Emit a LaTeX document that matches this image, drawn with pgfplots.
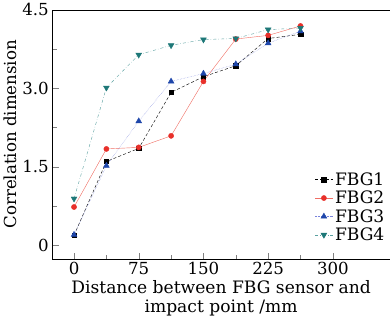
\documentclass[border=0pt]{standalone}
\usepackage{fontspec}
\setmainfont{DejaVu Serif}
\usepackage{pgfplots}
\pgfplotsset{compat=1.18}
\definecolor{c1}{RGB}{0,0,0}
\definecolor{c2line}{RGB}{240,110,100}
\definecolor{c2}{RGB}{232,48,42}
\definecolor{c3line}{RGB}{120,130,220}
\definecolor{c3}{RGB}{30,70,170}
\definecolor{c4line}{RGB}{90,160,160}
\definecolor{c4}{RGB}{30,120,120}
\begin{document}
\begin{tikzpicture}
\begin{axis}[
  scale only axis,
  width=325pt, height=240pt,
  xmin=-25, xmax=366, ymin=-0.26, ymax=4.5,
  xtick={0,75,150,225,300}, ytick={0,1.5,3,4.5},
  yticklabels={0,1.5,3.0,4.5},
  /pgf/number format/assume math mode=true,
  minor x tick num=1, minor y tick num=1,
  tick align=inside,
  xtick pos=bottom, ytick pos=left,
  major tick length=6pt, minor tick length=4pt,
  tick label style={font=\fontsize{16}{19}\selectfont},
  label style={font=\fontsize{16.5}{18.5}\selectfont},
  xlabel={Distance between FBG sensor and\\impact point /mm},
  xlabel style={align=center, yshift=2pt},
  ylabel={Correlation dimension},
  ylabel style={yshift=-1pt, font=\fontsize{16}{19}\selectfont},
  legend style={draw=none, fill=none, at={(1,0.05)}, anchor=south east,
    font=\fontsize{16.5}{19}\selectfont},
  legend cell align=left,
  every axis plot/.append style={mark size=2.5pt},
]
\addplot[c1, densely dashed, thin, mark=square*, mark options={solid, fill=c1, scale=0.85}] coordinates {
(0,0.19) (37.5,1.60) (75,1.85) (112.5,2.92) (150,3.22) (187.5,3.43) (225,3.95) (262.5,4.03)};
\addlegendentry{FBG1}
\addplot[c2line, thin, mark=*, mark options={solid, fill=c2, draw=c2}] coordinates {
(0,0.73) (37.5,1.84) (75,1.87) (112.5,2.09) (150,3.13) (187.5,3.94) (225,4.01) (262.5,4.19)};
\addlegendentry{FBG2}
\addplot[c3line, densely dotted, thin, mark=triangle*, mark options={solid, fill=c3, draw=c3, scale=1.3}] coordinates {
(0,0.20) (37.5,1.52) (75,2.37) (112.5,3.13) (150,3.28) (187.5,3.46) (225,3.86) (262.5,4.09)};
\addlegendentry{FBG3}
\addplot[c4line, dashdotted, thin, mark=triangle*, mark options={solid, fill=c4, draw=c4, rotate=180, scale=1.3}] coordinates {
(0,0.89) (37.5,3.01) (75,3.64) (112.5,3.82) (150,3.93) (187.5,3.95) (225,4.12) (262.5,4.15)};
\addlegendentry{FBG4}
\end{axis}
\end{tikzpicture}
\end{document}
